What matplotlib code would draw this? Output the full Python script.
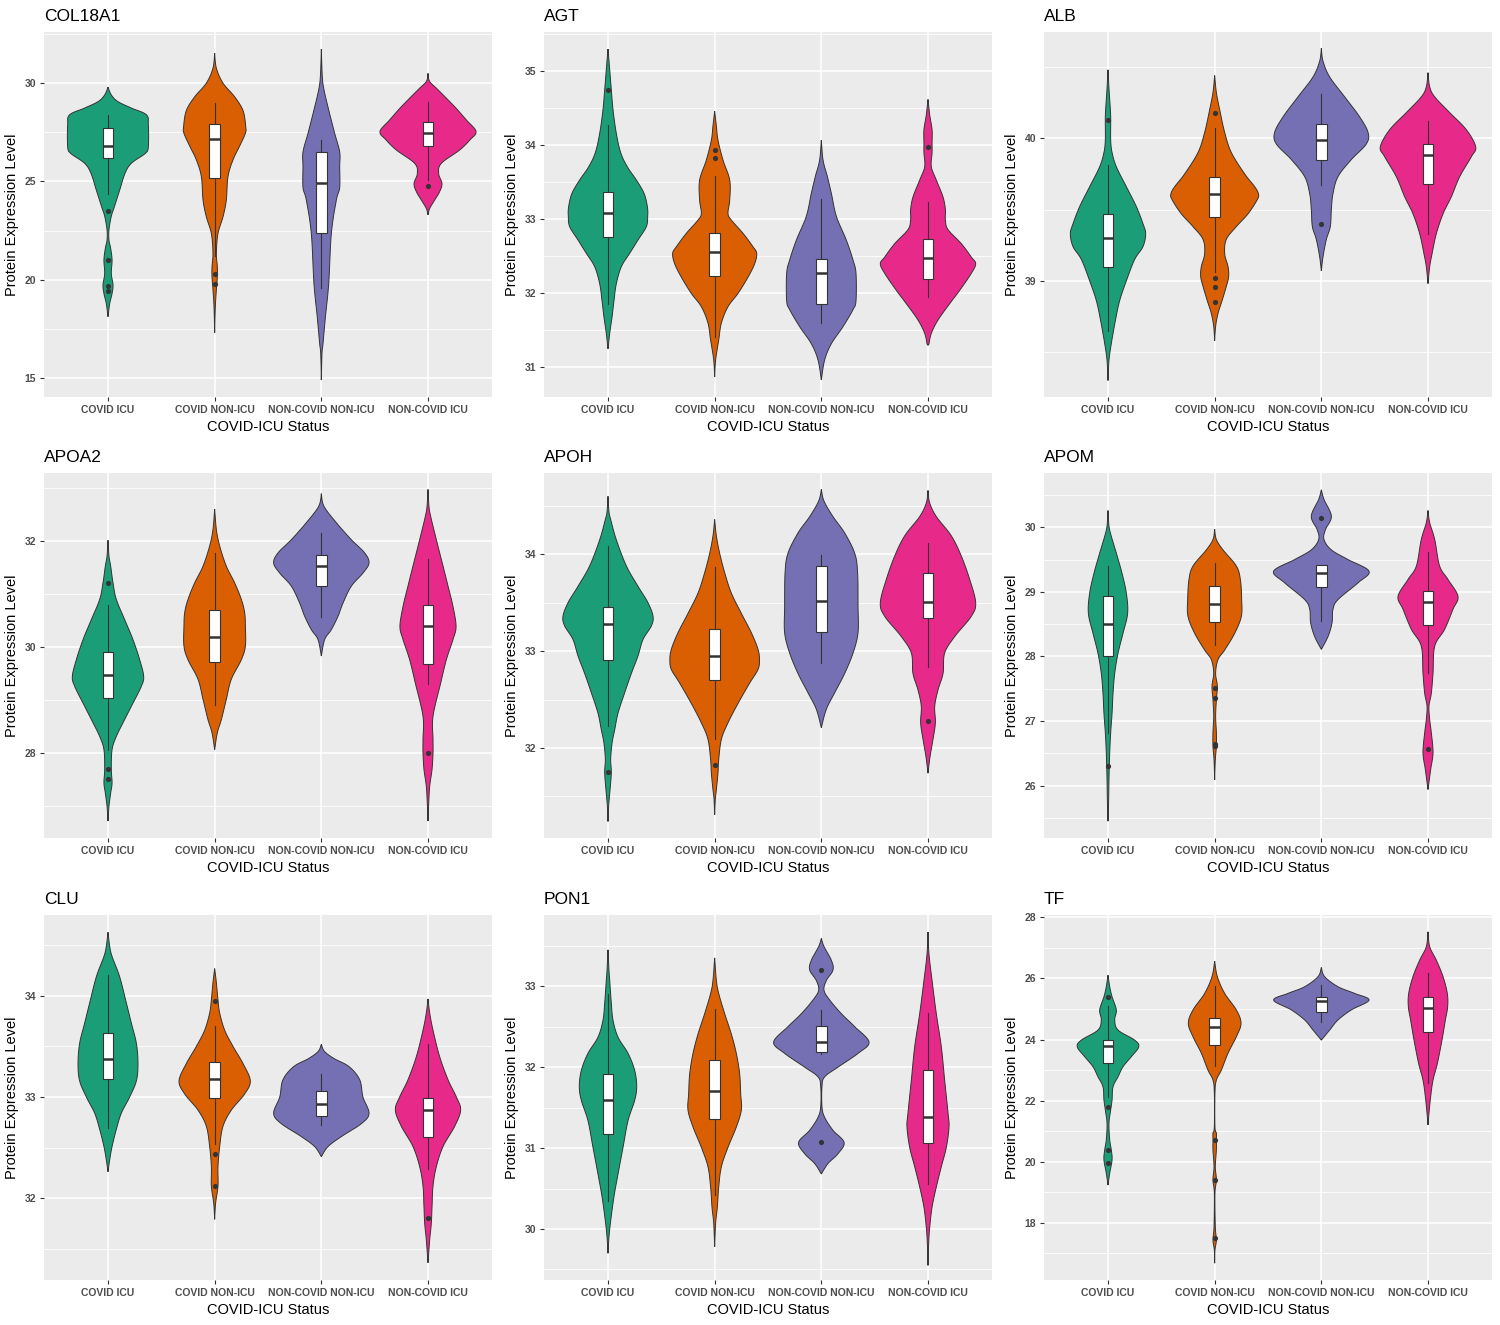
import numpy as np
import matplotlib
matplotlib.use("Agg")
import matplotlib.pyplot as plt
from matplotlib.patches import Rectangle

plt.rcParams['font.family'] = ['Liberation Sans', 'DejaVu Sans']

# ---------------- data ----------------
groups = ["COVID ICU", "COVID NON-ICU", "NON-COVID NON-ICU", "NON-COVID ICU"]
colors = ["#1B9E77", "#D95F02", "#7570B3", "#E7298A"]
genes = ["COL18A1", "AGT", "ALB", "APOA2", "APOH", "APOM", "CLU", "PON1", "TF"]

# violin outline: (value, half-width in category units) per group
col18a1_violin = [
    [(29.8, 0), (29.41, 0.03), (29.07, 0.09), (28.73, 0.22), (28.39, 0.36), (27.88, 0.378), (26.77, 0.378),
     (26.43, 0.35), (25.93, 0.22), (25.42, 0.16), (24.57, 0.11), (23.72, 0.06), (23.21, 0.03), (22.53, 0.009),
     (22.02, 0.009), (21.6, 0.025), (21.0, 0.038), (20.32, 0.031), (19.73, 0.047), (19.3, 0.038), (18.79, 0.016), (18.12, 0)],
    [(31.53, 0), (30.76, 0.016), (30.0, 0.078), (29.3, 0.188), (28.6, 0.266), (27.8, 0.291), (27.45, 0.288),
     (26.8, 0.234), (26.1, 0.172), (25.25, 0.125), (24.05, 0.109), (23.2, 0.078), (22.35, 0.031), (21.35, 0.016),
     (20.65, 0.025), (20.15, 0.025), (19.5, 0.016), (18.6, 0.006), (17.3, 0)],
    [(31.73, 0), (30.34, 0.009), (29.66, 0.025), (28.64, 0.069), (27.45, 0.125), (26.5, 0.172), (25.75, 0.172),
     (24.7, 0.172), (24.06, 0.141), (22.36, 0.094), (19.8, 0.069), (18.1, 0.038), (16.77, 0.016), (16.25, 0.006), (14.9, 0)],
    [(30.5, 0), (30.08, 0.016), (29.66, 0.094), (28.8, 0.25), (28.13, 0.359), (27.54, 0.45), (27.1, 0.391),
     (26.6, 0.297), (25.92, 0.125), (25.4, 0.1), (24.9, 0.131), (24.48, 0.109), (24.06, 0.063), (23.63, 0.016), (23.3, 0)],
]
agt_violin = [
    [(35.3, 0), (35.02, 0.016), (34.75, 0.031), (34.48, 0.047), (34.16, 0.078), (33.9, 0.119), (33.71, 0.181),
     (33.53, 0.266), (33.35, 0.338), (33.17, 0.369), (33.04, 0.372), (32.9, 0.359), (32.72, 0.281), (32.54, 0.203),
     (32.36, 0.125), (32.13, 0.078), (31.9, 0.056), (31.68, 0.038), (31.46, 0.016), (31.25, 0)],
    [(34.46, 0), (34.26, 0.016), (34.07, 0.031), (33.8, 0.078), (33.53, 0.141), (33.26, 0.141), (33.08, 0.125),
     (32.99, 0.156), (32.81, 0.266), (32.63, 0.359), (32.54, 0.394), (32.4, 0.375), (32.22, 0.313), (32.0, 0.219),
     (31.82, 0.125), (31.6, 0.063), (31.37, 0.038), (31.1, 0.009), (30.87, 0)],
    [(34.07, 0), (33.8, 0.016), (33.58, 0.056), (33.35, 0.094), (33.04, 0.141), (32.72, 0.234), (32.45, 0.297),
     (32.27, 0.325), (31.9, 0.325), (31.78, 0.297), (31.55, 0.203), (31.32, 0.094), (31.1, 0.031), (30.83, 0)],
    [(34.62, 0), (34.41, 0.016), (34.21, 0.038), (34.03, 0.038), (33.9, 0.038), (33.71, 0.031), (33.53, 0.078),
     (33.3, 0.141), (33.13, 0.163), (32.99, 0.163), (32.86, 0.188), (32.67, 0.313), (32.49, 0.406), (32.4, 0.447),
     (32.27, 0.406), (32.04, 0.297), (31.86, 0.203), (31.64, 0.094), (31.46, 0.031), (31.32, 0.009), (31.3, 0)],
]
alb_violin = [
    [(40.48, 0), (40.35, 0.009), (40.27, 0.016), (40.15, 0.025), (39.99, 0.025), (39.9, 0.038), (39.8, 0.078),
     (39.66, 0.172), (39.52, 0.266), (39.4, 0.328), (39.33, 0.353), (39.24, 0.328), (39.15, 0.25), (39.0, 0.172),
     (38.86, 0.109), (38.72, 0.069), (38.56, 0.031), (38.44, 0.009), (38.3, 0)],
    [(40.44, 0), (40.32, 0.016), (40.2, 0.047), (40.04, 0.094), (39.9, 0.156), (39.75, 0.281), (39.66, 0.375),
     (39.61, 0.41), (39.57, 0.4), (39.47, 0.313), (39.38, 0.203), (39.29, 0.109), (39.19, 0.094), (39.1, 0.125),
     (39.03, 0.131), (38.96, 0.109), (38.86, 0.069), (38.77, 0.031), (38.68, 0.009), (38.58, 0)],
    [(40.63, 0), (40.54, 0.016), (40.43, 0.078), (40.29, 0.219), (40.15, 0.359), (40.04, 0.438), (39.96, 0.422),
     (39.85, 0.281), (39.73, 0.156), (39.61, 0.109), (39.5, 0.094), (39.38, 0.084), (39.29, 0.047), (39.17, 0.016), (39.07, 0)],
    [(40.46, 0), (40.36, 0.016), (40.29, 0.063), (40.18, 0.203), (40.06, 0.359), (39.94, 0.447), (39.87, 0.406),
     (39.73, 0.297), (39.59, 0.219), (39.47, 0.141), (39.33, 0.078), (39.19, 0.038), (39.1, 0.016), (38.98, 0)],
]
apoa2_violin = [
    [(32.02, 0), (31.72, 0.009), (31.53, 0.025), (31.21, 0.047), (30.9, 0.078), (30.52, 0.156), (30.14, 0.234),
     (29.76, 0.297), (29.45, 0.334), (29.26, 0.313), (28.88, 0.219), (28.57, 0.141), (28.31, 0.078), (28.06, 0.038),
     (27.69, 0.031), (27.43, 0.038), (27.24, 0.025), (26.99, 0.009), (26.71, 0)],
    [(32.61, 0), (32.22, 0.016), (31.91, 0.047), (31.53, 0.109), (31.21, 0.188), (30.9, 0.25), (30.65, 0.281),
     (30.39, 0.288), (30.02, 0.288), (29.76, 0.25), (29.39, 0.156), (29.01, 0.109), (28.63, 0.063), (28.38, 0.025), (28.06, 0)],
    [(32.9, 0), (32.66, 0.025), (32.35, 0.141), (32.03, 0.281), (31.78, 0.406), (31.59, 0.447), (31.4, 0.391),
     (31.15, 0.281), (30.83, 0.203), (30.58, 0.156), (30.33, 0.094), (30.14, 0.031), (29.83, 0)],
    [(32.98, 0), (32.66, 0.009), (32.47, 0.025), (32.03, 0.078), (31.53, 0.141), (31.15, 0.188), (30.77, 0.234),
     (30.39, 0.263), (30.14, 0.234), (29.76, 0.172), (29.32, 0.119), (28.69, 0.047), (28.25, 0.047), (28.0, 0.047),
     (27.69, 0.038), (27.37, 0.016), (27.02, 0.006), (26.71, 0)],
]
apoh_violin = [
    [(34.6, 0), (34.44, 0.009), (34.36, 0.025), (34.15, 0.078), (33.88, 0.172), (33.67, 0.281), (33.5, 0.375),
     (33.36, 0.422), (33.26, 0.406), (33.12, 0.328), (32.95, 0.281), (32.77, 0.219), (32.57, 0.156), (32.36, 0.094),
     (32.19, 0.063), (32.05, 0.038), (31.88, 0.025), (31.74, 0.031), (31.53, 0.016), (31.4, 0.006), (31.24, 0)],
    [(34.36, 0), (34.19, 0.016), (34.01, 0.047), (33.81, 0.094), (33.6, 0.156), (33.39, 0.25), (33.19, 0.344),
     (33.02, 0.406), (32.91, 0.42), (32.81, 0.406), (32.67, 0.328), (32.46, 0.219), (32.26, 0.125), (32.09, 0.063),
     (31.88, 0.038), (31.74, 0.031), (31.57, 0.016), (31.47, 0.006), (31.31, 0)],
    [(34.67, 0), (34.55, 0.025), (34.39, 0.109), (34.22, 0.219), (34.01, 0.313), (33.81, 0.34), (33.46, 0.344),
     (33.19, 0.344), (32.98, 0.297), (32.77, 0.219), (32.57, 0.125), (32.4, 0.047), (32.21, 0)],
    [(34.66, 0), (34.53, 0.016), (34.39, 0.078), (34.19, 0.219), (33.98, 0.313), (33.74, 0.391), (33.5, 0.447),
     (33.36, 0.406), (33.15, 0.25), (32.98, 0.156), (32.77, 0.141), (32.6, 0.094), (32.43, 0.063), (32.26, 0.069),
     (32.09, 0.047), (31.91, 0.019), (31.74, 0)],
]
apom_violin = [
    [(30.26, 0), (30.02, 0.009), (29.86, 0.031), (29.6, 0.078), (29.29, 0.131), (28.98, 0.172), (28.67, 0.184),
     (28.36, 0.141), (28.05, 0.094), (27.74, 0.063), (27.43, 0.047), (27.12, 0.038), (26.82, 0.025), (26.51, 0.016),
     (26.09, 0.009), (25.78, 0.006), (25.45, 0)],
    [(29.97, 0), (29.81, 0.016), (29.65, 0.078), (29.4, 0.203), (29.19, 0.241), (28.88, 0.253), (28.62, 0.25),
     (28.36, 0.188), (28.1, 0.094), (27.95, 0.031), (27.74, 0.009), (27.54, 0.025), (27.33, 0.016), (27.07, 0.009),
     (26.82, 0.016), (26.61, 0.016), (26.4, 0.006), (26.09, 0)],
    [(30.58, 0), (30.43, 0.025), (30.17, 0.094), (29.96, 0.038), (29.81, 0.025), (29.65, 0.094), (29.5, 0.25),
     (29.32, 0.447), (29.14, 0.344), (28.88, 0.156), (28.73, 0.109), (28.52, 0.1), (28.31, 0.063), (28.11, 0)],
    [(30.26, 0), (30.07, 0.016), (29.81, 0.063), (29.4, 0.109), (29.19, 0.188), (28.93, 0.281), (28.73, 0.234),
     (28.42, 0.156), (28.16, 0.063), (27.74, 0.047), (27.43, 0.031), (27.23, 0.009), (27.02, 0.016), (26.82, 0.031),
     (26.51, 0.047), (26.25, 0.025), (25.94, 0)],
]
clu_violin = [
    [(34.63, 0), (34.49, 0.016), (34.39, 0.038), (34.19, 0.109), (33.93, 0.172), (33.73, 0.219), (33.53, 0.266),
     (33.33, 0.281), (33.16, 0.266), (33.0, 0.203), (32.84, 0.125), (32.68, 0.078), (32.51, 0.038), (32.38, 0.016), (32.26, 0)],
    [(34.27, 0), (34.13, 0.016), (33.96, 0.031), (33.83, 0.047), (33.66, 0.094), (33.5, 0.172), (33.33, 0.266),
     (33.16, 0.334), (33.03, 0.281), (32.87, 0.156), (32.71, 0.078), (32.51, 0.047), (32.31, 0.031), (32.12, 0.031),
     (31.95, 0.009), (31.79, 0)],
    [(33.52, 0), (33.45, 0.03), (33.38, 0.12), (33.3, 0.26), (33.17, 0.36), (33.0, 0.39), (32.84, 0.447),
     (32.74, 0.38), (32.61, 0.19), (32.51, 0.063), (32.41, 0)],
    [(33.97, 0), (33.83, 0.016), (33.66, 0.047), (33.4, 0.109), (33.17, 0.188), (33.0, 0.266), (32.87, 0.306),
     (32.71, 0.25), (32.51, 0.141), (32.31, 0.078), (32.12, 0.047), (31.92, 0.038), (31.75, 0.031), (31.59, 0.016), (31.36, 0)],
]
pon1_violin = [
    [(33.45, 0), (33.2, 0.009), (33.07, 0.016), (32.79, 0.031), (32.58, 0.047), (32.37, 0.094), (32.17, 0.188),
     (31.96, 0.25), (31.76, 0.269), (31.59, 0.25), (31.34, 0.188), (31.01, 0.141), (30.68, 0.094), (30.4, 0.056),
     (30.1, 0.025), (29.9, 0.009), (29.7, 0)],
    [(33.35, 0), (33.07, 0.016), (32.91, 0.038), (32.66, 0.094), (32.41, 0.156), (32.17, 0.203), (31.92, 0.234),
     (31.67, 0.244), (31.47, 0.25), (31.26, 0.203), (31.01, 0.125), (30.77, 0.063), (30.52, 0.038), (30.27, 0.025),
     (30.07, 0.009), (29.78, 0)],
    [(33.59, 0), (33.49, 0.025), (33.32, 0.094), (33.2, 0.109), (33.07, 0.047), (32.95, 0.025), (32.83, 0.078),
     (32.66, 0.188), (32.5, 0.313), (32.31, 0.447), (32.17, 0.344), (32.0, 0.156), (31.88, 0.031), (31.76, 0.006),
     (31.51, 0.006), (31.38, 0.031), (31.22, 0.109), (31.07, 0.213), (30.93, 0.156), (30.81, 0.063), (30.68, 0)],
    [(33.67, 0), (33.4, 0.009), (33.07, 0.038), (32.66, 0.078), (32.25, 0.125), (31.84, 0.156), (31.43, 0.188),
     (31.26, 0.197), (31.01, 0.172), (30.77, 0.125), (30.52, 0.078), (30.27, 0.038), (30.02, 0.016), (29.82, 0.006), (29.55, 0)],
]
tf_violin = [
    [(26.11, 0), (25.73, 0.016), (25.4, 0.038), (24.97, 0.078), (24.64, 0.063), (24.31, 0.094), (23.98, 0.25),
     (23.76, 0.288), (23.44, 0.219), (23.11, 0.141), (22.78, 0.094), (22.45, 0.047), (22.02, 0.038), (21.69, 0.025),
     (21.25, 0.009), (20.71, 0.016), (20.38, 0.031), (20.06, 0.038), (19.62, 0.016), (19.23, 0)],
    [(26.57, 0), (26.06, 0.025), (25.51, 0.094), (24.97, 0.203), (24.53, 0.247), (24.09, 0.203), (23.55, 0.125),
     (23.0, 0.063), (22.67, 0.016), (22.24, 0.003), (21.14, 0.003), (20.93, 0.016), (20.71, 0.016), (20.38, 0.016),
     (19.83, 0.006), (19.4, 0.016), (18.96, 0.003), (17.87, 0.006), (17.43, 0.016), (17.1, 0.003), (16.67, 0)],
    [(26.36, 0), (26.06, 0.031), (25.73, 0.156), (25.51, 0.313), (25.29, 0.447), (24.97, 0.281), (24.64, 0.156),
     (24.31, 0.078), (23.98, 0)],
    [(27.53, 0), (27.04, 0.016), (26.6, 0.078), (26.06, 0.141), (25.51, 0.181), (25.07, 0.184), (24.64, 0.163),
     (23.98, 0.131), (23.22, 0.088), (22.67, 0.047), (22.13, 0.025), (21.58, 0.009), (21.2, 0)],
]

# boxplot stats per group: (lower whisker, Q1, median, Q3, upper whisker)
col18a1_box = [(24.35, 26.2, 26.8, 27.7, 28.4), (21.2, 25.16, 27.15, 27.93, 28.98),
               (19.56, 22.36, 24.94, 26.49, 27.11), (25.07, 26.8, 27.45, 28.0, 29.03)]
agt_box = [(31.85, 32.76, 33.09, 33.37, 34.28), (31.41, 32.23, 32.56, 32.81, 33.59),
           (31.6, 31.85, 32.28, 32.46, 33.28), (31.95, 32.2, 32.48, 32.74, 33.23)]
alb_box = [(38.65, 39.1, 39.3, 39.47, 39.81), (39.06, 39.45, 39.61, 39.73, 40.07),
           (39.67, 39.85, 39.99, 40.1, 40.31), (39.33, 39.68, 39.88, 39.96, 40.12)]
apoa2_box = [(28.06, 29.04, 29.47, 29.91, 30.79), (28.91, 29.71, 30.19, 30.7, 31.78),
             (30.56, 31.16, 31.53, 31.74, 32.16), (29.3, 29.68, 30.39, 30.79, 31.67)]
apoh_box = [(32.23, 32.91, 33.28, 33.46, 34.09), (32.09, 32.7, 32.95, 33.23, 33.87),
            (32.88, 33.2, 33.52, 33.88, 33.99), (32.84, 33.34, 33.51, 33.81, 34.12)]
apom_box = [(26.82, 28.0, 28.5, 28.93, 29.4), (28.18, 28.53, 28.81, 29.09, 29.45),
            (28.55, 29.08, 29.29, 29.41, 29.41), (27.74, 28.49, 28.84, 29.02, 29.62)]
clu_box = [(32.69, 33.18, 33.38, 33.63, 34.21), (32.54, 32.99, 33.18, 33.35, 33.7),
           (32.72, 32.81, 32.93, 33.06, 33.23), (32.29, 32.6, 32.87, 32.99, 33.52)]
pon1_box = [(30.35, 31.18, 31.59, 31.91, 32.91), (30.42, 31.36, 31.71, 32.09, 32.72),
            (32.16, 32.19, 32.31, 32.51, 32.7), (30.56, 31.06, 31.38, 31.97, 32.67)]
tf_box = [(22.13, 23.24, 23.79, 24.0, 25.1), (23.13, 23.82, 24.4, 24.72, 25.75),
          (24.58, 24.91, 25.26, 25.38, 25.78), (22.59, 24.26, 25.04, 25.4, 26.17)]

# outliers per group
col18a1_out = [[23.5, 21.0, 19.7, 19.45], [20.3, 19.8], [], [24.77]]
agt_out = [[34.74], [33.93, 33.83], [], [33.98]]
alb_out = [[40.13], [40.18, 39.02, 38.96, 38.85], [39.4], []]
apoa2_out = [[31.21, 27.69, 27.5], [], [], [28.0]]
apoh_out = [[31.75], [31.82], [], [32.28]]
apom_out = [[26.3], [27.51, 27.36, 26.65, 26.61], [30.14], [26.57]]
clu_out = [[], [33.95, 32.44, 32.12], [], [31.8]]
pon1_out = [[], [], [33.2, 31.07], []]
tf_out = [[25.38, 21.8, 20.38, 19.97], [20.71, 19.4, 17.49], [], []]

# axis ranges and tick labels
ylims = [(14.04, 32.6), (30.6, 35.53), (38.185, 40.745), (26.39, 33.29), (31.07, 34.84),
         (25.19, 30.84), (31.19, 34.8), (29.37, 33.88), (16.12, 28.08)]
yticks = [[15, 20, 25, 30], [31, 32, 33, 34, 35], [39, 40], [28, 30, 32], [32, 33, 34],
          [26, 27, 28, 29, 30], [32, 33, 34], [30, 31, 32, 33], [18, 20, 22, 24, 26, 28]]

violins = [col18a1_violin, agt_violin, alb_violin, apoa2_violin, apoh_violin,
           apom_violin, clu_violin, pon1_violin, tf_violin]
boxes = [col18a1_box, agt_box, alb_box, apoa2_box, apoh_box, apom_box, clu_box, pon1_box, tf_box]
outliers = [col18a1_out, agt_out, alb_out, apoa2_out, apoh_out, apom_out, clu_out, pon1_out, tf_out]


# ---------------- drawing helpers ----------------
def smooth_profile(pts, n=24):
    p = np.array(pts, dtype=float)
    p = np.vstack([p[0], p, p[-1]])
    out = []
    for i in range(1, len(p) - 2):
        p0, p1, p2, p3 = p[i - 1], p[i], p[i + 1], p[i + 2]
        t = np.linspace(0, 1, n, endpoint=False)[:, None]
        seg = 0.5 * ((2 * p1) + (-p0 + p2) * t + (2 * p0 - 5 * p1 + 4 * p2 - p3) * t ** 2
                     + (-p0 + 3 * p1 - 3 * p2 + p3) * t ** 3)
        out.append(seg)
    out.append(p[-2][None, :])
    c = np.vstack(out)
    c[:, 1] = np.clip(c[:, 1], 0, None)
    return c[:, 0], c[:, 1]


fig = plt.figure(figsize=(15, 13.25), dpi=100)
W, H = 1500.0, 1325.0
col_left = [44, 544, 1044]
rows = [(32, 397), (473, 838), (915, 1280)]
pw = 448

line_col = "#333333"
for gi, gene in enumerate(genes):
    r, c = divmod(gi, 3)
    top, bot = rows[r]
    ax = fig.add_axes([col_left[c] / W, 1 - bot / H, pw / W, (bot - top) / H])
    ax.set_facecolor("#EBEBEB")
    for s in ax.spines.values():
        s.set_visible(False)
    lo, hi = ylims[gi]
    ax.set_xlim(0.4, 4.6)
    ax.set_ylim(lo, hi)
    maj = yticks[gi]
    step = maj[1] - maj[0]
    minors = [maj[0] - step / 2] + [m + step / 2 for m in maj]
    for m in minors:
        if lo < m < hi:
            ax.axhline(m, color="white", lw=0.6, zorder=0)
    for m in maj:
        ax.axhline(m, color="white", lw=1.1, zorder=0)
    for k in range(4):
        ax.axvline(k + 1, color="white", lw=1.1, zorder=0)

    for k in range(4):
        pos = k + 1
        ys, ws = smooth_profile(violins[gi][k])
        xs = np.concatenate([pos - ws, (pos + ws)[::-1]])
        yy = np.concatenate([ys, ys[::-1]])
        ax.fill(xs, yy, facecolor=colors[k], edgecolor=line_col, lw=0.7, zorder=2)
        wlo, q1, med, q3, whi = boxes[gi][k]
        ax.plot([pos, pos], [q3, whi], color=line_col, lw=0.8, zorder=3)
        ax.plot([pos, pos], [wlo, q1], color=line_col, lw=0.8, zorder=3)
        ax.add_patch(Rectangle((pos - 0.05, q1), 0.1, q3 - q1, facecolor="white",
                               edgecolor=line_col, lw=0.8, zorder=4))
        ax.plot([pos - 0.05, pos + 0.05], [med, med], color=line_col, lw=1.8, zorder=5,
                solid_capstyle="butt")
        if outliers[gi][k]:
            ax.scatter([pos] * len(outliers[gi][k]), outliers[gi][k], s=14, color=line_col,
                       zorder=6, linewidths=0)

    ax.set_xticks([1, 2, 3, 4])
    ax.set_xticklabels(groups)
    ax.set_yticks(maj)
    ax.set_yticklabels([str(m) for m in maj])
    ax.tick_params(axis="both", colors=line_col, length=3, width=0.8, labelsize=7.5,
                   labelcolor="#4D4D4D", pad=2.5)
    for lab in ax.get_xticklabels() + ax.get_yticklabels():
        lab.set_fontweight("bold")
    ax.set_xlabel("COVID-ICU Status", fontsize=10.5, labelpad=4, color="black")
    ax.set_ylabel("Protein Expression Level", fontsize=10.5, labelpad=4, color="black")
    ax.set_title(gene, loc="left", fontsize=12.5, pad=8, color="black")

fig.savefig("out.png", dpi=100, facecolor="white")
